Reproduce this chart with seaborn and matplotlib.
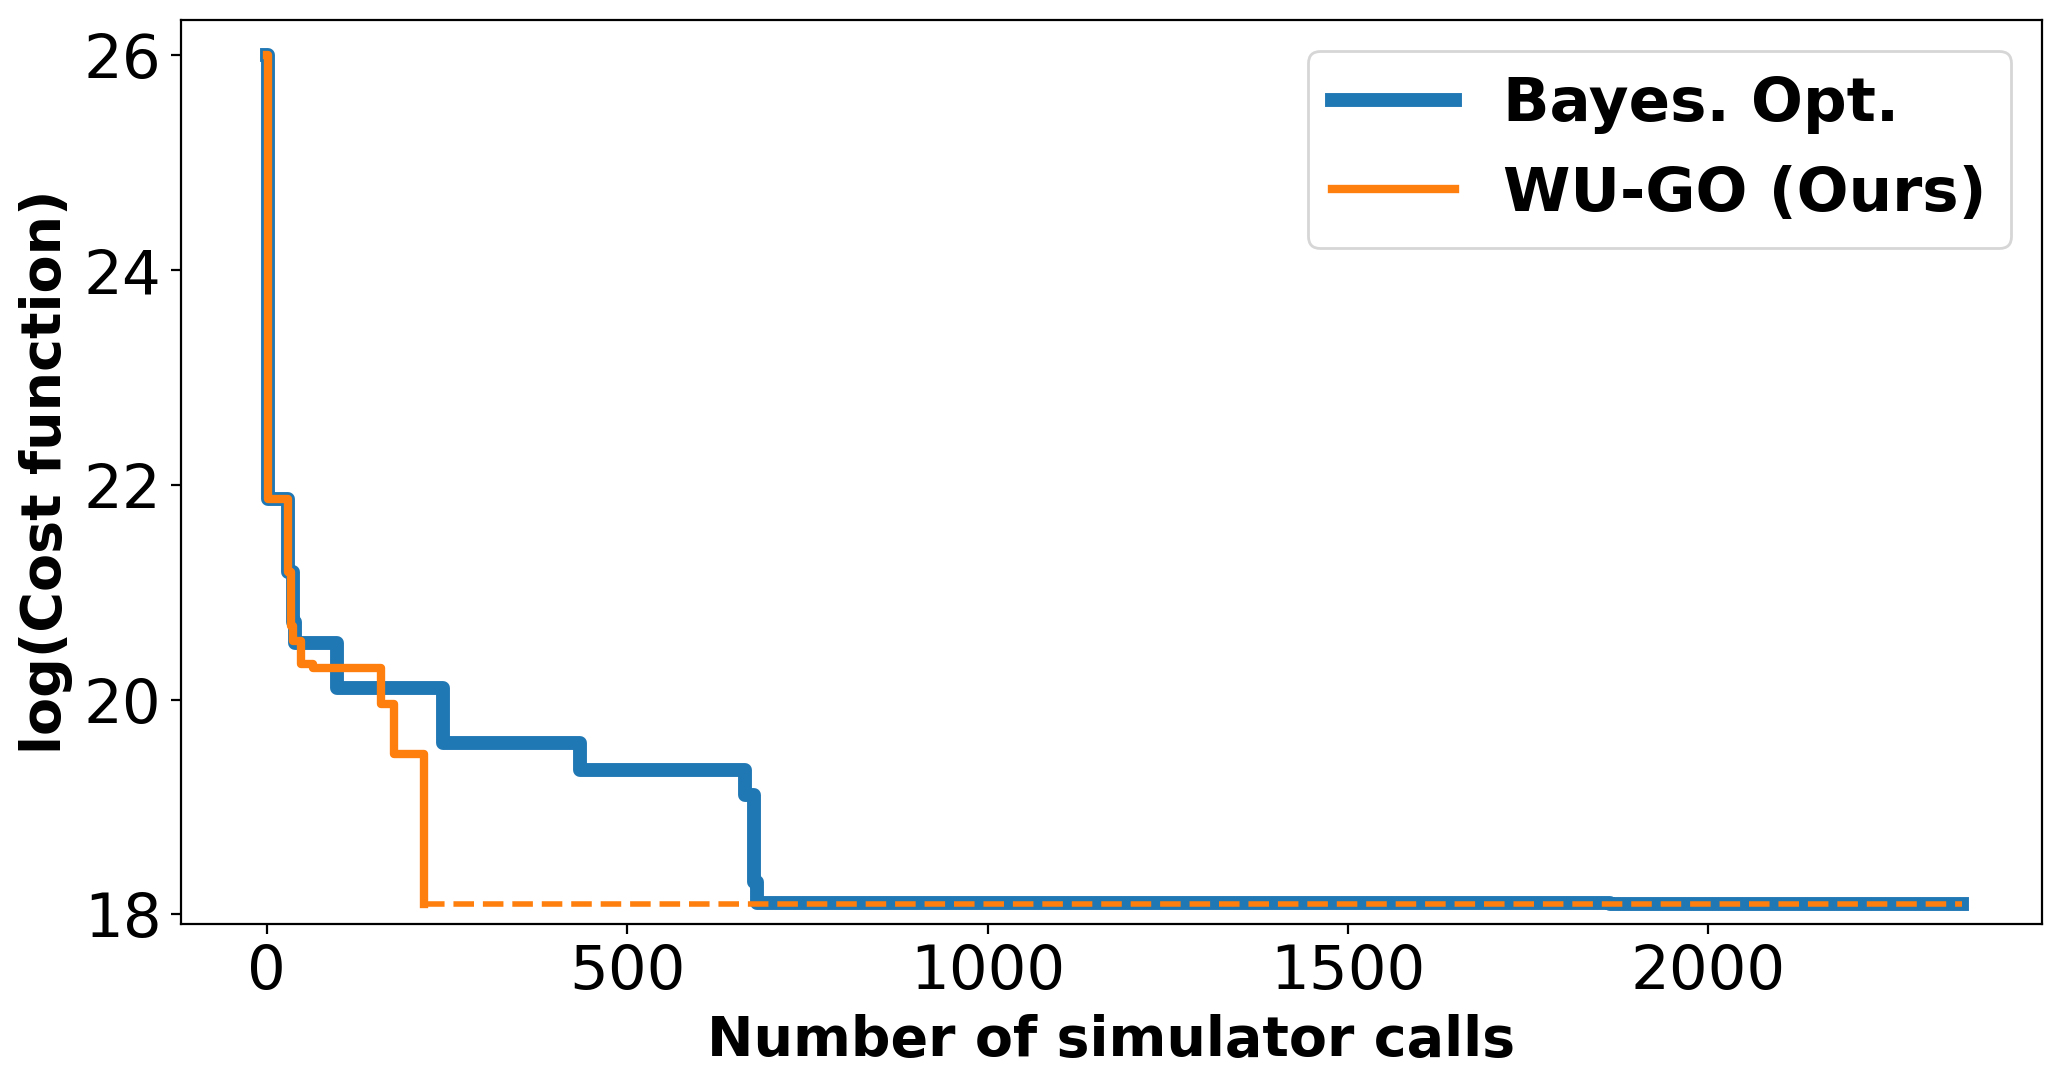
import matplotlib
matplotlib.use("Agg")
import matplotlib.pyplot as plt
import seaborn as sns

# best-so-far log cost, step changes (x = simulator call where the new best appears)
bo_calls = [0, 1, 29, 37, 39, 97, 245, 434, 664, 676, 680, 1864, 2352]
bo_cost = [26.0, 21.87, 21.19, 20.72, 20.53, 20.11, 19.60, 19.34, 19.11, 18.30, 18.11, 18.10, 18.10]

wugo_calls = [0, 1, 29, 34, 37, 48, 64, 159, 177, 218]
wugo_cost = [26.0, 21.87, 21.19, 20.69, 20.55, 20.33, 20.29, 19.96, 19.49, 18.10]

# WU-GO stopped early: its final value carried forward as a dashed line
wugo_ext_calls = [218, 2352]
wugo_ext_cost = [18.10, 18.10]

x_ticks = [0, 500, 1000, 1500, 2000]
y_ticks = [18, 20, 22, 24, 26]

fig, ax = plt.subplots(figsize=(10.31, 5.445), dpi=200)
fig.subplots_adjust(left=0.0878, right=0.9903, top=0.9816, bottom=0.1515)

sns.lineplot(x=bo_calls, y=bo_cost, ax=ax, color="#1f77b4", lw=5,
             drawstyle="steps-post", estimator=None, sort=False, label="Bayes. Opt.")
sns.lineplot(x=wugo_calls, y=wugo_cost, ax=ax, color="#ff7f0e", lw=3,
             drawstyle="steps-post", estimator=None, sort=False, label="WU-GO (Ours)")
sns.lineplot(x=wugo_ext_calls, y=wugo_ext_cost, ax=ax, color="#ff7f0e", lw=2,
             linestyle="--", estimator=None, sort=False)

ax.set_xlim(-119, 2463)
ax.set_ylim(17.91, 26.33)
ax.set_xticks(x_ticks)
ax.set_yticks(y_ticks)
ax.tick_params(labelsize=22)
ax.set_xlabel("Number of simulator calls", fontsize=20, fontweight="bold")
ax.set_ylabel("log(Cost function)", fontsize=20, fontweight="bold")

handles, labels = ax.get_legend_handles_labels()
ax.legend(handles[:2], labels[:2], loc="upper right",
          prop={"size": 22, "weight": "bold"})

fig.savefig("out.png", dpi=200)
